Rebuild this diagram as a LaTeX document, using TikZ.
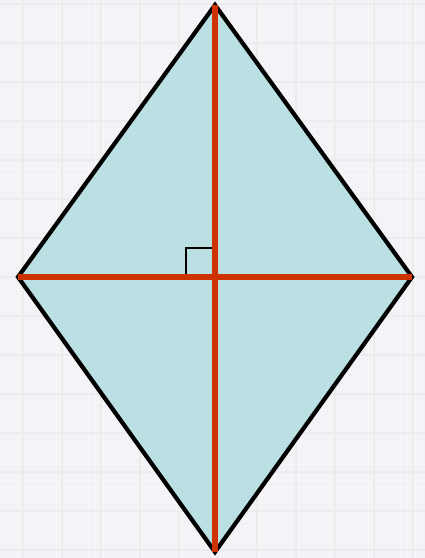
\documentclass[tikz,border=0pt]{standalone}
\usetikzlibrary{calc}
\definecolor{bgc}{RGB}{243,243,247}
\definecolor{fillc}{RGB}{186,224,227}
\definecolor{redc}{RGB}{204,51,0}
\begin{document}
\begin{tikzpicture}[x=1pt,y=-1pt,
  minorgrid/.style={draw=gray!6,line width=0.6pt},
  majorgrid/.style={draw=gray!15,line width=1.6pt},
  rhomb/.style={draw=black,line width=4.2pt,fill=fillc,line join=miter},
  diag/.style={draw=redc,line width=5.2pt},
  rightangle/.style={draw=black,line width=1.4pt}]
\fill[bgc] (0,0) rectangle (425,558);
\useasboundingbox (0,0) rectangle (425,558);
\foreach \i in {0,...,55} {\draw[minorgrid] (\i*7.8+2,0) -- (\i*7.8+2,558);}
\foreach \i in {0,...,72} {\draw[minorgrid] (0,\i*7.8+4) -- (425,\i*7.8+4);}
\foreach \i in {0,...,11} {\draw[majorgrid] (\i*39+23,0) -- (\i*39+23,558);}
\foreach \i in {0,...,14} {\draw[majorgrid] (0,\i*39+4) -- (425,\i*39+4);}
\coordinate (T) at (215,5);
\coordinate (B) at (215,552);
\coordinate (L) at (18,277);
\coordinate (R) at (412,277);
\coordinate (O) at (215,277);
\draw[rhomb] (T) -- (R) -- (B) -- (L) -- cycle;
\draw[rightangle] ($(O)+(-29,-2)$) -- ($(O)+(-29,-29)$) -- ($(O)+(-2,-29)$);
\draw[diag] (L) -- (R);
\draw[diag] (T) -- (B);
\end{tikzpicture}
\end{document}
